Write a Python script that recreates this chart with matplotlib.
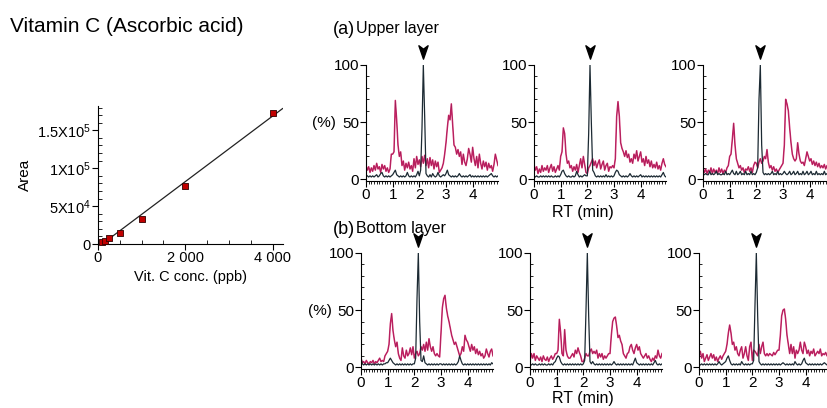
import numpy as np
import matplotlib
matplotlib.use("Agg")
import matplotlib.pyplot as plt
from matplotlib.path import Path
from matplotlib.ticker import MultipleLocator, FixedLocator

plt.rcParams['font.family'] = ['Liberation Sans', 'DejaVu Sans']
plt.rcParams['mathtext.fontset'] = 'custom'
plt.rcParams['mathtext.rm'] = 'Liberation Sans'
plt.rcParams['mathtext.it'] = 'Liberation Sans:italic'

# calibration curve
conc = [100, 150, 250, 500, 1000, 2000, 4000]
area = [2200, 4300, 8000, 15000, 33000, 76500, 173000]
fit_slope = 43.2
fit_icpt = -4150
fit_x = [80, 4230]

# chromatograms, RT grid 0.05 min
rt = np.round(np.arange(0, 5, 0.05), 2)

up1_pink = [12, 8, 11, 6, 10, 7, 12, 8, 14, 9, 11, 6, 13, 9, 12, 7, 10, 6, 9, 22,
            22, 24, 69, 52, 30, 20, 24, 12, 16, 8, 14, 10, 15, 9, 12, 7, 18, 10, 20, 13,
            17, 11, 20, 14, 21, 12, 18, 10, 19, 12, 17, 9, 16, 11, 15, 6, 8, 10, 14, 22,
            32, 45, 56, 52, 66, 48, 30, 28, 22, 26, 20, 24, 13, 22, 15, 12, 18, 27, 22, 15,
            28, 18, 12, 20, 10, 22, 14, 9, 16, 11, 15, 8, 14, 10, 12, 7, 13, 22, 17, 12]
up1_black = [4, 3, 2, 3, 2, 3, 2, 3, 4, 2, 3, 5, 6, 3, 2, 3, 2, 3, 2, 3,
             4, 6, 8, 4, 3, 2, 3, 2, 3, 2, 3, 6, 3, 2, 3, 2, 3, 2, 4, 7,
             3, 8, 45, 100, 55, 5, 3, 2, 4, 2, 5, 3, 2, 3, 6, 3, 2, 3, 4, 3,
             5, 8, 4, 3, 2, 3, 2, 3, 2, 3, 5, 3, 2, 3, 2, 3, 2, 3, 4, 2,
             3, 2, 3, 2, 3, 2, 3, 2, 3, 2, 3, 2, 3, 4, 5, 3, 2, 3, 2, 3]

up2_pink = [13, 8, 11, 5, 9, 6, 12, 7, 10, 8, 12, 6, 10, 13, 7, 11, 6, 9, 12, 8,
            20, 24, 45, 40, 22, 14, 16, 10, 12, 7, 11, 8, 13, 6, 12, 18, 10, 20, 13, 6,
            5, 10, 12, 15, 18, 12, 16, 10, 14, 17, 9, 13, 16, 8, 12, 14, 7, 11, 10, 12,
            10, 18, 55, 68, 55, 32, 27, 24, 20, 25, 19, 22, 15, 18, 14, 22, 18, 25, 16, 20,
            24, 15, 18, 12, 20, 14, 17, 11, 16, 10, 13, 10, 15, 9, 12, 8, 14, 18, 13, 11]
up2_black = [3, 2, 3, 2, 2, 3, 2, 3, 2, 3, 2, 3, 2, 3, 2, 2, 3, 2, 3, 2,
             4, 7, 8, 5, 3, 2, 3, 2, 2, 3, 2, 3, 7, 4, 2, 3, 2, 3, 4, 3,
             3, 40, 100, 50, 8, 6, 3, 2, 3, 2, 3, 2, 3, 2, 4, 2, 3, 2, 3, 2,
             3, 6, 8, 7, 4, 3, 2, 3, 2, 3, 2, 3, 5, 3, 2, 3, 2, 3, 2, 3,
             4, 2, 3, 2, 3, 2, 3, 2, 3, 2, 3, 2, 3, 2, 3, 2, 4, 6, 3, 2]

up3_pink = [10, 6, 9, 5, 8, 6, 10, 5, 9, 6, 8, 5, 10, 6, 9, 5, 8, 6, 10, 12,
            20, 22, 35, 49, 30, 18, 14, 10, 12, 8, 10, 6, 9, 8, 11, 7, 10, 6, 12, 15,
            14, 10, 15, 18, 14, 16, 20, 18, 26, 15, 10, 12, 8, 11, 7, 9, 6, 8, 10, 12,
            14, 30, 70, 66, 60, 45, 32, 22, 18, 16, 18, 32, 22, 16, 14, 15, 12, 18, 24, 20,
            16, 18, 13, 16, 12, 15, 11, 14, 10, 12, 10, 13, 9, 12, 10, 11, 9, 12, 10, 11]
up3_black = [5, 4, 5, 4, 4, 7, 4, 5, 4, 5, 7, 4, 5, 4, 4, 5, 4, 7, 4, 5,
             4, 6, 8, 5, 4, 7, 4, 5, 7, 4, 5, 4, 7, 4, 5, 4, 7, 4, 5, 4,
             6, 10, 70, 100, 30, 6, 4, 5, 4, 5, 4, 5, 7, 4, 5, 4, 7, 4, 5, 4,
             5, 7, 5, 4, 5, 7, 4, 5, 7, 4, 5, 7, 4, 5, 4, 7, 4, 5, 7, 4,
             5, 7, 4, 5, 4, 7, 4, 5, 4, 5, 4, 7, 4, 5, 4, 8, 5, 4, 5, 4]

lo1_pink = [8, 4, 5, 3, 6, 4, 3, 5, 4, 6, 3, 5, 4, 6, 8, 5, 6, 5, 10, 12,
            14, 20, 38, 47, 32, 24, 18, 22, 12, 8, 6, 17, 10, 8, 15, 10, 12, 17, 11, 18,
            8, 12, 14, 10, 12, 18, 15, 20, 14, 22, 15, 25, 18, 14, 18, 12, 10, 12, 10, 9,
            30, 52, 60, 63, 52, 45, 40, 34, 28, 24, 20, 22, 18, 14, 10, 12, 18, 14, 28, 24,
            22, 18, 14, 20, 15, 18, 12, 16, 11, 14, 10, 12, 8, 10, 16, 12, 9, 14, 16, 10]
lo1_black = [8, 3, 2, 3, 2, 3, 2, 3, 2, 3, 2, 3, 2, 3, 2, 3, 2, 3, 3, 4,
             4, 6, 8, 6, 4, 3, 2, 3, 2, 3, 2, 3, 2, 3, 2, 3, 2, 3, 2, 3,
             3, 8, 60, 100, 40, 6, 5, 10, 4, 3, 2, 3, 2, 3, 2, 3, 2, 3, 2, 3,
             3, 2, 3, 2, 3, 2, 3, 2, 3, 2, 3, 2, 3, 5, 10, 6, 3, 2, 3, 2,
             3, 2, 3, 2, 3, 2, 3, 2, 3, 2, 3, 2, 3, 2, 3, 2, 3, 2, 4, 3]

lo2_pink = [5, 12, 8, 12, 6, 10, 8, 6, 9, 5, 10, 7, 6, 9, 5, 8, 10, 7, 9, 12,
            12, 15, 42, 30, 12, 10, 33, 15, 10, 8, 8, 10, 12, 9, 15, 12, 17, 13, 10, 5,
            5, 8, 12, 10, 10, 14, 16, 12, 14, 12, 15, 8, 12, 9, 12, 7, 10, 8, 10, 12,
            12, 28, 40, 43, 44, 36, 26, 28, 23, 20, 12, 10, 8, 12, 13, 18, 20, 15, 12, 17,
            20, 15, 18, 12, 10, 8, 10, 12, 8, 10, 7, 5, 8, 6, 10, 8, 15, 10, 8, 12]
lo2_black = [3, 2, 3, 2, 3, 2, 2, 3, 2, 3, 2, 3, 2, 2, 3, 2, 3, 2, 4, 5,
             8, 10, 9, 5, 3, 2, 3, 2, 3, 2, 3, 2, 3, 2, 3, 2, 3, 2, 3, 2,
             3, 6, 50, 100, 45, 5, 3, 5, 3, 2, 3, 2, 3, 2, 3, 2, 3, 2, 3, 2,
             3, 2, 3, 5, 3, 2, 3, 2, 3, 2, 3, 2, 3, 2, 3, 2, 3, 2, 5, 8,
             4, 3, 2, 3, 2, 3, 2, 3, 2, 3, 2, 3, 2, 4, 6, 3, 2, 3, 2, 3]

lo3_pink = [10, 14, 8, 12, 5, 8, 11, 6, 9, 12, 8, 11, 6, 9, 5, 8, 10, 7, 10, 12,
            14, 20, 30, 37, 30, 20, 22, 15, 18, 12, 10, 15, 18, 8, 12, 18, 10, 6, 18, 22,
            6, 15, 14, 12, 10, 20, 12, 18, 22, 12, 10, 12, 10, 12, 11, 10, 13, 11, 13, 15,
            15, 28, 45, 50, 51, 42, 28, 20, 12, 20, 12, 18, 8, 15, 12, 15, 22, 15, 12, 22,
            18, 12, 15, 10, 14, 12, 16, 10, 12, 14, 12, 16, 10, 12, 11, 13, 10, 12, 11, 12]
lo3_black = [3, 2, 3, 2, 3, 2, 3, 2, 3, 2, 3, 2, 3, 2, 3, 5, 3, 2, 3, 4,
             5, 8, 10, 6, 3, 2, 3, 2, 3, 2, 3, 2, 5, 3, 2, 3, 2, 3, 2, 3,
             3, 6, 55, 100, 45, 5, 3, 2, 3, 2, 3, 2, 3, 2, 3, 2, 3, 2, 3, 2,
             3, 2, 3, 4, 3, 2, 3, 2, 3, 2, 3, 2, 5, 3, 2, 3, 2, 3, 6, 8,
             4, 3, 2, 3, 2, 3, 2, 3, 2, 3, 2, 3, 2, 3, 4, 3, 2, 3, 2, 3]

W, H = 828, 408
fig = plt.figure(figsize=(W / 100, H / 100), dpi=100)


def box(left, top, right, bottom):
    return [left / W, 1 - bottom / H, (right - left) / W, (bottom - top) / H]


# ---- calibration plot ----
ax = fig.add_axes(box(98, 106, 283, 244))
ax.plot(fit_x, [fit_slope * v + fit_icpt for v in fit_x], color="#222222", lw=0.9)
ax.scatter(conc, area, marker="s", s=24, c="#c00000", edgecolors="#300000",
           linewidths=0.6, zorder=3, clip_on=False)
ax.set_xlim(0, 4240)
ax.set_ylim(0, 182000)
ax.spines[["top", "right"]].set_visible(False)
ax.set_xticks([0, 2000, 4000])
ax.set_xticklabels(["0", "2 000", "4 000"])
ax.xaxis.set_minor_locator(MultipleLocator(500))
ax.set_yticks([0, 50000, 100000, 150000])
ax.set_yticklabels(["0", r"5X10$^{4}$", r"1X10$^{5}$", r"1.5X10$^{5}$"])
ax.yaxis.set_minor_locator(MultipleLocator(10000))
ax.tick_params(which="major", direction="out", length=4, width=0.8, labelsize=10.5, pad=1)
ax.tick_params(which="minor", direction="in", length=3, width=0.6)
ax.set_xlabel("Vit. C conc. (ppb)", fontsize=10.5, labelpad=4)
ax.set_ylabel("Area", fontsize=11)
ax.yaxis.set_label_coords(-0.355, 0.5)

fig.text(10 / W, 1 - 26 / H, "Vitamin C (Ascorbic acid)", fontsize=15, va="center")

# ---- chromatograms ----
arrow = Path([(0, -1), (-0.6, 0.75), (0, 0.3), (0.6, 0.75), (0, -1)],
             [Path.MOVETO, Path.LINETO, Path.LINETO, Path.LINETO, Path.CLOSEPOLY])

panels = [
    (366, 65, 181, up1_pink, up1_black),
    (534, 65, 181, up2_pink, up2_black),
    (703, 65, 181, up3_pink, up3_black),
    (361, 253, 369, lo1_pink, lo1_black),
    (530, 253, 369, lo2_pink, lo2_black),
    (699, 253, 369, lo3_pink, lo3_black),
]
for left, top, bottom, pink, black in panels:
    a = fig.add_axes(box(left, top, left + 132, bottom))
    a.plot(rt, pink, color="#d0266a", lw=1.1)
    a.plot(rt, pink, color="#6a1a40", lw=0.3, alpha=0.6)
    a.plot(rt, black, color="#1c2a33", lw=0.9)
    a.set_xlim(0, 4.95)
    a.set_ylim(-1.5, 100)
    a.spines[["top", "right"]].set_visible(False)
    a.set_xticks([0, 1, 2, 3, 4])
    a.xaxis.set_minor_locator(FixedLocator(np.arange(1, 50) / 10))
    a.set_yticks([0, 50, 100])
    a.yaxis.set_minor_locator(MultipleLocator(10))
    a.tick_params(which="major", direction="out", length=4, width=0.8, labelsize=11, pad=1)
    a.tick_params(axis="x", which="minor", direction="out", length=2.5, width=0.6)
    a.tick_params(axis="y", which="minor", direction="in", length=2.5, width=0.6)
    pk = rt[int(np.argmax(black))]
    a.plot([pk], [112], marker=arrow, ms=11, color="black", clip_on=False)

fig.text(324 / W, 1 - 123 / H, "(%)", fontsize=11, ha="center", va="center")
fig.text(320 / W, 1 - 311 / H, "(%)", fontsize=11, ha="center", va="center")
fig.text(583 / W, 1 - 212 / H, "RT (min)", fontsize=11.5, ha="center", va="center")
fig.text(583 / W, 1 - 398 / H, "RT (min)", fontsize=11.5, ha="center", va="center")

fig.text(333 / W, 1 - 30 / H, "(a)", fontsize=13, va="center")
fig.text(356 / W, 1 - 29 / H, "Upper layer", fontsize=11.5, va="center")
fig.text(333 / W, 1 - 229 / H, "(b)", fontsize=13, va="center")
fig.text(356 / W, 1 - 228 / H, "Bottom layer", fontsize=11.5, va="center")

fig.savefig("out.png", dpi=100)
